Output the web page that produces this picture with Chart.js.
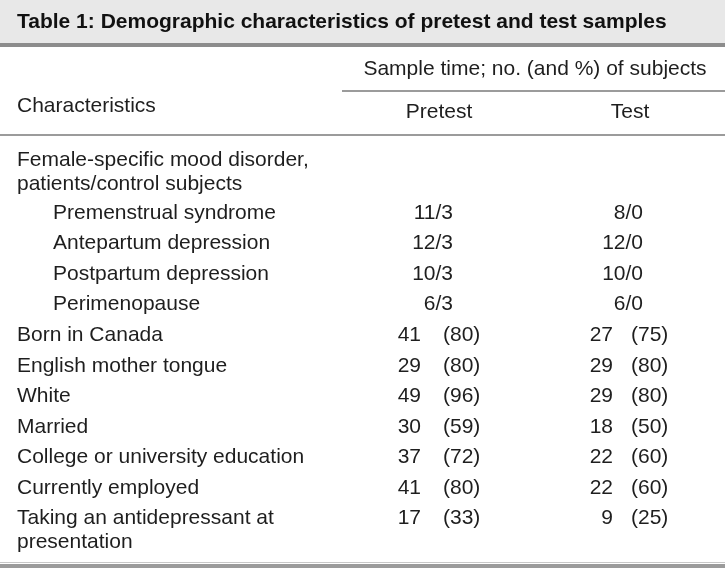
<!DOCTYPE html>
<html>
<head>
<meta charset="utf-8">
<script src="https://cdn.jsdelivr.net/npm/chart.js@4"></script>
<style>
  html, body { margin: 0; padding: 0; background: #fff; }
  #table-chart { display: block; }
</style>
</head>
<body>
<canvas id="table-chart" width="725" height="568"></canvas>
<script>
// table content
const title = 'Table 1: Demographic characteristics of pretest and test samples';
const spanHeader = 'Sample time; no. (and %) of subjects';
const columnHeaders = ['Characteristics', 'Pretest', 'Test'];

const groupLabel = ['Female-specific mood disorder,', 'patients/control subjects'];
const disorders = ['Premenstrual syndrome', 'Antepartum depression', 'Postpartum depression', 'Perimenopause'];
const pretestPatients = [11, 12, 10, 6];
const pretestControls = [3, 3, 3, 3];
const testPatients = [8, 12, 10, 6];
const testControls = [0, 0, 0, 0];

const characteristics = [
    ['Born in Canada'],
    ['English mother tongue'],
    ['White'],
    ['Married'],
    ['College or university education'],
    ['Currently employed'],
    ['Taking an antidepressant at', 'presentation']
];
const pretestN = [41, 29, 49, 30, 37, 41, 17];
const pretestPct = [80, 80, 96, 59, 72, 80, 33];
const testN = [27, 29, 29, 18, 22, 22, 9];
const testPct = [75, 80, 80, 50, 60, 60, 25];

// layout (in scale units, which equal canvas pixels here)
const W = 725, H = 568;
const FONT = '"Liberation Sans", Arial, Helvetica, sans-serif';
const textColor = '#1e1e1e';
const ruleColor = '#9b9b9b';
const col = { left: 17, indent: 53, preN: 421, prePct: 443, preFrac: 453, testN: 613, testPct: 631, testFrac: 643, pretestHead: 439, testHead: 630, span: 535 };
const firstRowY = 160, lineGap = 24, rowPitch = 30.55, firstDisorderY = 213;

function rowY(k) { return firstDisorderY + k * rowPitch; }

const labelPts = [], labelTxt = [];
const rightPts = [], rightTxt = [];
const leftPts = [], leftTxt = [];

groupLabel.forEach((t, i) => { labelPts.push({x: col.left, y: firstRowY + i * lineGap}); labelTxt.push(t); });
disorders.forEach((t, i) => {
    const y = rowY(i);
    labelPts.push({x: col.indent, y: y}); labelTxt.push(t);
    rightPts.push({x: col.preFrac, y: y}); rightTxt.push(pretestPatients[i] + '/' + pretestControls[i]);
    rightPts.push({x: col.testFrac, y: y}); rightTxt.push(testPatients[i] + '/' + testControls[i]);
});
characteristics.forEach((lines, i) => {
    const y = rowY(disorders.length + i);
    lines.forEach((t, j) => { labelPts.push({x: col.left, y: y + j * lineGap}); labelTxt.push(t); });
    rightPts.push({x: col.preN, y: y}); rightTxt.push(String(pretestN[i]));
    rightPts.push({x: col.testN, y: y}); rightTxt.push(String(testN[i]));
    leftPts.push({x: col.prePct, y: y}); leftTxt.push('(' + pretestPct[i] + ')');
    leftPts.push({x: col.testPct, y: y}); leftTxt.push('(' + testPct[i] + ')');
});

const headPts = [{x: col.span, y: 69}, {x: col.pretestHead, y: 112}, {x: col.testHead, y: 112}];
const headTxt = [spanHeader, columnHeaders[1], columnHeaders[2]];
headPts.push({x: col.left, y: 106}); headTxt.push(columnHeaders[0]);

const tablePlugin = {
    id: 'tableDraw',
    beforeDraw(chart) {
        const ctx = chart.ctx, xs = chart.scales.x, ys = chart.scales.y;
        const px = v => xs.getPixelForValue(v), py = v => ys.getPixelForValue(v);
        ctx.save();
        ctx.fillStyle = '#fff';
        ctx.fillRect(0, 0, W, H);
        // title band
        ctx.fillStyle = '#e8e8e8';
        ctx.fillRect(px(0), py(0), px(W) - px(0), py(43) - py(0));
        ctx.fillStyle = '#8c8c8c';
        ctx.fillRect(px(0), py(43), px(W) - px(0), py(47) - py(43));
        // rules
        ctx.fillStyle = ruleColor;
        ctx.fillRect(px(342), py(90), px(W) - px(342), py(92) - py(90));
        ctx.fillRect(px(0), py(134), px(W) - px(0), py(136) - py(134));
        ctx.fillStyle = '#c8c8c8';
        ctx.fillRect(px(0), py(562), px(W) - px(0), py(563) - py(562));
        ctx.fillStyle = ruleColor;
        ctx.fillRect(px(0), py(564), px(W) - px(0), py(568) - py(564));
        // title
        ctx.fillStyle = '#111';
        ctx.font = 'bold 21px ' + FONT;
        ctx.textAlign = 'left';
        ctx.textBaseline = 'alphabetic';
        ctx.fillText(title, px(17), py(28));
        ctx.restore();
    },
    afterDatasetsDraw(chart) {
        const ctx = chart.ctx;
        chart.data.datasets.forEach((ds, i) => {
            const meta = chart.getDatasetMeta(i);
            ctx.save();
            ctx.fillStyle = textColor;
            ctx.font = '21px ' + FONT;
            ctx.textAlign = ds.textAlign;
            ctx.textBaseline = 'middle';
            meta.data.forEach((el, j) => ctx.fillText(ds.texts[j], el.x, el.y));
            ctx.restore();
        });
    }
};

const rows = (pts, texts, align) => ({ data: pts, texts: texts, textAlign: align, pointRadius: 0, showLine: false });

new Chart(document.querySelector('#table-chart').getContext('2d'), {
    type: 'scatter',
    data: {
        datasets: [
            rows(headPts.slice(0, 3), headTxt.slice(0, 3), 'center'),
            rows(headPts.slice(3), headTxt.slice(3), 'left'),
            rows(labelPts, labelTxt, 'left'),
            rows(rightPts, rightTxt, 'right'),
            rows(leftPts, leftTxt, 'left')
        ]
    },
    options: {
        responsive: false,
        animation: false,
        devicePixelRatio: 1,
        layout: { padding: 0 },
        events: [],
        plugins: { legend: { display: false }, tooltip: { enabled: false } },
        scales: {
            x: { type: 'linear', min: 0, max: W, display: false },
            y: { type: 'linear', min: 0, max: H, reverse: true, display: false }
        }
    },
    plugins: [tablePlugin]
});
</script>
</body>
</html>
